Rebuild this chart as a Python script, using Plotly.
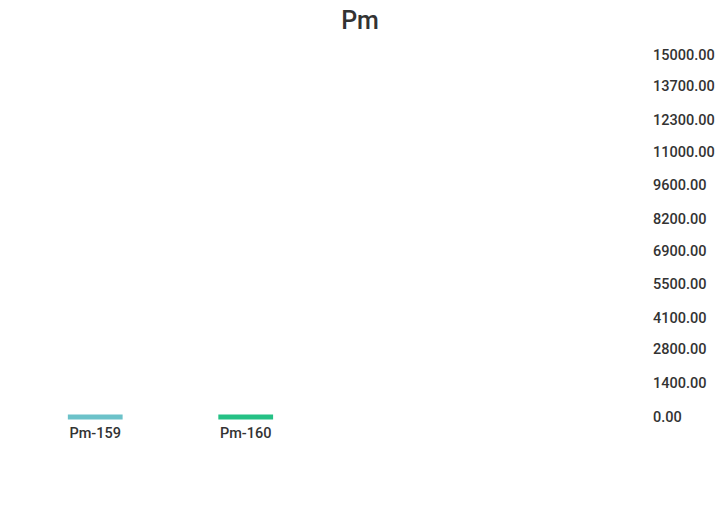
import plotly.graph_objects as go

categories = ["Pm-159", "Pm-160"]
values = [0, 0]
colors = ["#6cc2c9", "#25c185"]
tick_values = [0, 1400, 2800, 4100, 5500, 6900, 8200, 9600, 11000, 12300, 13700, 15000]
tick_labels = [f"{v:.2f}" for v in tick_values]

half_width = 0.182
fig = go.Figure()
for i, (cat, val, col) in enumerate(zip(categories, values, colors)):
    fig.add_trace(go.Scatter(
        x=[i - half_width, i + half_width], y=[val, val],
        mode="lines",
        line=dict(color=col, width=5),
        cliponaxis=False,
        name=cat, showlegend=False, hoverinfo="skip",
    ))

fig.update_layout(
    width=720, height=512,
    margin=dict(l=20, r=68, t=55, b=90),
    paper_bgcolor="white", plot_bgcolor="white",
    font=dict(family="Roboto", color="#333333", size=14.5, weight=500),
    title=dict(text="Pm", x=0.5, xanchor="center", y=0.96, yanchor="middle",
               font=dict(size=25, color="#333333", family="Roboto", weight=500)),
    xaxis=dict(range=[-0.5, 3.7], tickvals=list(range(len(categories))),
               ticktext=categories, showgrid=False, zeroline=False,
               showline=False, ticks="", ticklabelstandoff=0, automargin=False,
               tickfont=dict(size=14.5, weight=500)),
    yaxis=dict(side="right", range=[-210, 15000], tickvals=tick_values,
               ticktext=tick_labels, showgrid=False, zeroline=False,
               showline=False, ticks="", automargin=False,
               tickfont=dict(size=14.5, weight=500)),
)

fig.write_html("out.html")
